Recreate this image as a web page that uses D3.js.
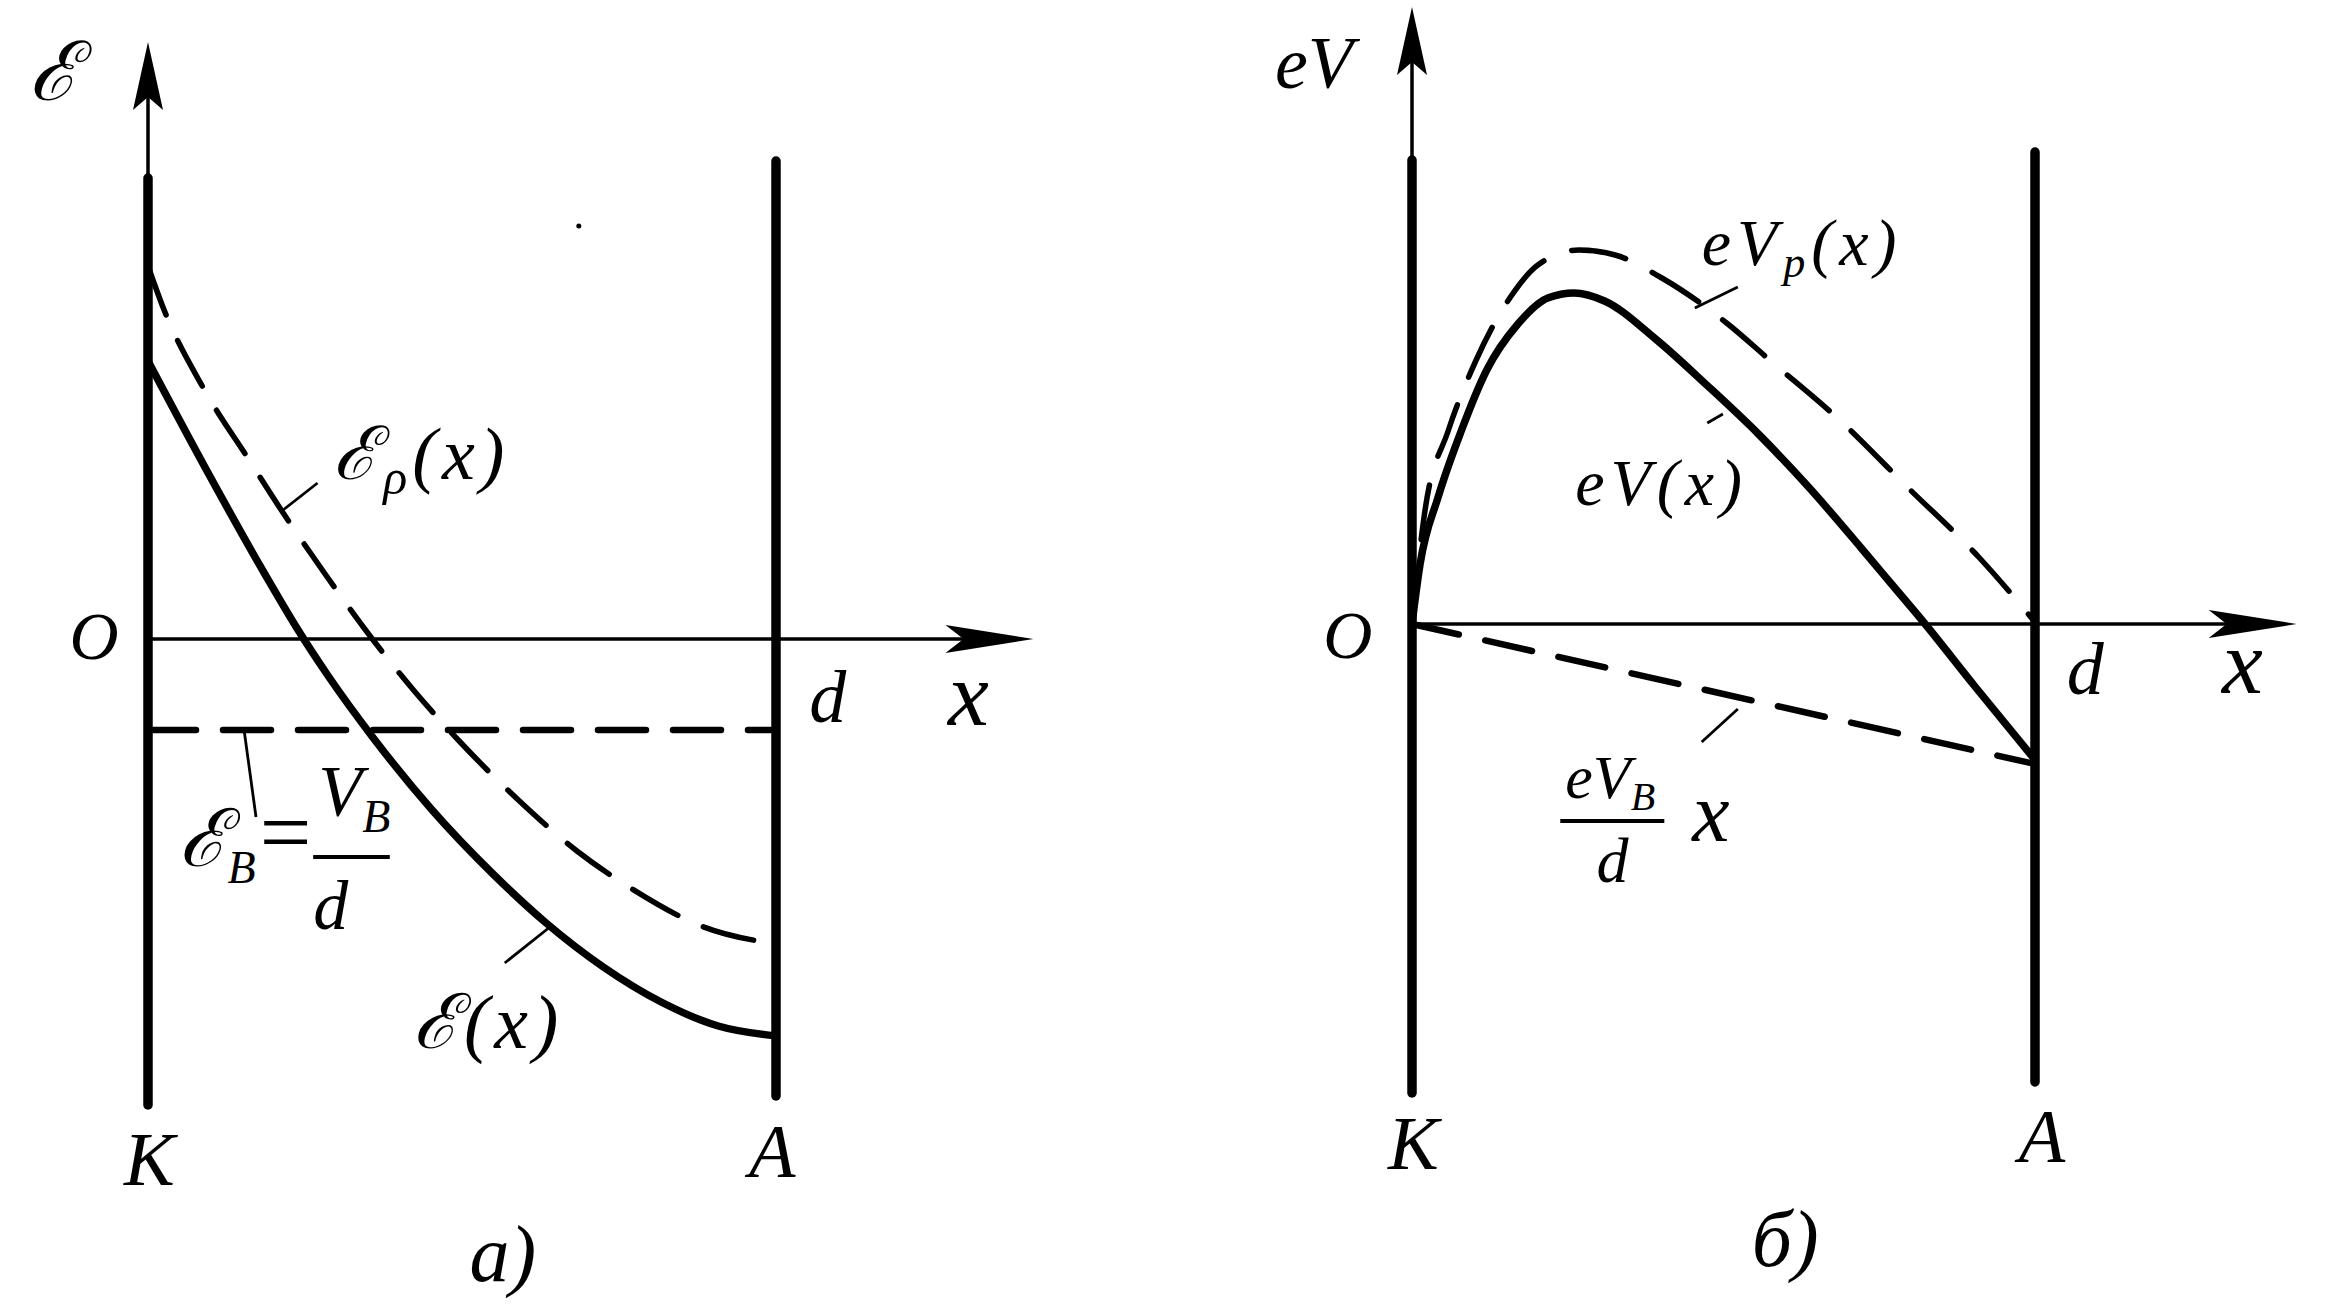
<!DOCTYPE html>
<html>
<head>
<meta charset="utf-8">
<script src="https://cdn.jsdelivr.net/npm/d3@7"></script>
<style>
html,body{margin:0;padding:0;background:#fff;}
svg{display:block;}
text{font-family:"Liberation Serif","DejaVu Serif",serif;font-style:italic;fill:#000;}
</style>
</head>
<body>
<script>
// ---------- DATA (x in units of d, y in arbitrary energy units) ----------
// Panel а): field strength
const epX = [0, 0.025, 0.089, 0.162, 0.209, 0.282, 0.350, 0.424, 0.497, 0.588, 0.683, 0.771, 0.881, 1.0];
const epY = [3.73, 3.30, 2.50, 1.78, 1.32, 0.65, 0.06, -0.52, -1.03, -1.60, -2.12, -2.50, -2.87, -3.05];
const eX  = [0, 0.094, 0.186, 0.236, 0.287, 0.360, 0.451, 0.551, 0.634, 0.725, 0.817, 0.908, 1.0];
const eY  = [2.78, 1.68, 0.65, 0.12, -0.37, -1.00, -1.70, -2.36, -2.84, -3.28, -3.63, -3.87, -3.97];
const ebX = [0, 1];
const ebY = [-0.91, -0.91];
// Panel б): potential energy
const vX  = [0, 0.013, 0.042, 0.079, 0.120, 0.170, 0.218, 0.260, 0.309, 0.391, 0.473, 0.556, 0.638, 0.721, 0.771, 0.821, 0.903, 1.0];
const vY  = [0, 0.60, 1.27, 1.93, 2.54, 3.00, 3.26, 3.31, 3.23, 2.85, 2.39, 1.90, 1.36, 0.76, 0.39, 0.02, -0.62, -1.36];
const vpX = [0, 0.021, 0.058, 0.103, 0.157, 0.202, 0.268, 0.326, 0.401, 0.507, 0.574, 0.688, 0.795, 0.911, 1.0];
const vpY = [0, 1.14, 1.93, 2.64, 3.26, 3.59, 3.74, 3.69, 3.46, 3.00, 2.64, 2.03, 1.37, 0.66, 0.02];
const vbX = [0, 1];
const vbY = [0, -1.40];

// electrode / axis extents (data units)
const electrodesA = {kTop: 4.61, kBot: -4.66, aTop: 4.78, aBot: -4.57, yArrow: 5.97, xArrow: 1.41};
const electrodesB = {kTop: 4.64, kBot: -4.69, aTop: 4.72, aBot: -4.58, yArrow: 6.17, xArrow: 1.42};

const zip = (xs, ys) => xs.map((x, i) => [x, ys[i]]);

// ---------- SVG ----------
const W = 2338, H = 1308;
const svg = d3.select("body").append("svg").attr("width", W).attr("height", H);
svg.append("rect").attr("width", W).attr("height", H).attr("fill", "#fff");

function arrowHead(g, tip, dir, L, w, n) {
  const [dx, dy] = dir, px = -dy, py = dx;
  const p = [
    [tip[0], tip[1]],
    [tip[0] - L*dx + w*px, tip[1] - L*dy + w*py],
    [tip[0] - n*dx, tip[1] - n*dy],
    [tip[0] - L*dx - w*px, tip[1] - L*dy - w*py]
  ];
  g.append("path").attr("d", "M" + p.map(q => q.join(",")).join("L") + "Z").attr("fill", "#000");
}

function label(g, x, y, parts, size, anchor, ls) {
  const t = g.append("text").attr("x", x).attr("y", y).attr("font-size", size)
    .attr("text-anchor", anchor || "start");
  if (ls) t.attr("letter-spacing", ls);
  let shift = 0;
  parts.forEach(p => {
    const ts = t.append("tspan").text(p[0]);
    const target = p[1] ? p[1] : 0;
    if (target !== shift) { ts.attr("dy", target - shift); shift = target; }
    if (p[2]) ts.attr("font-size", p[2]);
  });
  return t;
}

function panel(cfg) {
  const g = svg.append("g");
  const xs = d3.scaleLinear().domain([0, 1]).range(cfg.xr);
  const ys = d3.scaleLinear().domain([0, 1]).range([cfg.y0, cfg.y0 - 100]);
  const E = cfg.el;
  const line = d3.line().x(d => xs(d[0])).y(d => ys(d[1])).curve(d3.curveMonotoneX);
  const straight = d3.line().x(d => xs(d[0])).y(d => ys(d[1]));

  // thin y-axis + arrow
  g.append("line").attr("x1", xs(0)).attr("x2", xs(0)).attr("y1", ys(E.kTop)).attr("y2", ys(E.yArrow) + 30)
    .attr("stroke", "#000").attr("stroke-width", 3.5);
  arrowHead(g, [xs(0), ys(E.yArrow)], [0, -1], 68, 15, 55);
  // x-axis + arrow
  g.append("line").attr("x1", xs(0)).attr("x2", xs(E.xArrow) - 40).attr("y1", ys(0)).attr("y2", ys(0))
    .attr("stroke", "#000").attr("stroke-width", 3.5);
  arrowHead(g, [xs(E.xArrow), ys(0)], [1, 0], 88, 14, 70);
  // electrodes
  g.append("line").attr("x1", xs(0)).attr("x2", xs(0)).attr("y1", ys(E.kTop)).attr("y2", ys(E.kBot))
    .attr("stroke", "#000").attr("stroke-width", 9.5).attr("stroke-linecap", "round");
  g.append("line").attr("x1", xs(1)).attr("x2", xs(1)).attr("y1", ys(E.aTop)).attr("y2", ys(E.aBot))
    .attr("stroke", "#000").attr("stroke-width", 9.5).attr("stroke-linecap", "round");

  cfg.series.forEach(s => {
    g.append("path").attr("d", (s.straight ? straight : line)(s.data))
      .attr("fill", "none").attr("stroke", "#000").attr("stroke-width", s.w)
      .attr("stroke-dasharray", s.dash || null).attr("stroke-linecap", "round")
      .attr("stroke-linejoin", "round");
  });
  cfg.leaders.forEach(l => {
    g.append("line").attr("x1", xs(l[0])).attr("y1", ys(l[1])).attr("x2", xs(l[2])).attr("y2", ys(l[3]))
      .attr("stroke", "#000").attr("stroke-width", 2.8);
  });
  cfg.bars.forEach(b => {
    g.append("line").attr("x1", xs(b[0])).attr("x2", xs(b[1])).attr("y1", ys(b[2])).attr("y2", ys(b[2]))
      .attr("stroke", "#000").attr("stroke-width", 4);
  });
  cfg.labels.forEach(l => label(g, xs(l.x), ys(l.y), l.parts, l.size, l.anchor, l.ls));
  (cfg.dots || []).forEach(d => g.append("circle").attr("cx", xs(d[0])).attr("cy", ys(d[1])).attr("r", 2.5).attr("fill", "#000"));
}

// ---------- Panel а) ----------
panel({
  xr: [148, 776], y0: 639, el: electrodesA,
  series: [
    {data: zip(ebX, ebY), w: 6.5, dash: "48,27", straight: true},
    {data: zip(epX, epY), w: 5.5, dash: "52,28"},
    {data: zip(eX, eY), w: 7.5}
  ],
  leaders: [
    [0.215, 1.29, 0.270, 1.56],
    [0.153, -0.91, 0.172, -1.78],
    [0.568, -3.24, 0.642, -2.87]
  ],
  bars: [[0.263, 0.385, -2.18]],
  labels: [
    {x: -0.190, y: 5.39, parts: [["ℰ"]], size: 82},
    {x: -0.086, y: -0.20, parts: [["O"]], size: 68, anchor: "middle"},
    {x: 1.053, y: -0.83, parts: [["d"]], size: 74},
    {x: 1.274, y: -0.86, parts: [["x"]], size: 92},
    {x: 0.002, y: -5.46, parts: [["K"]], size: 76, anchor: "middle"},
    {x: 0.994, y: -5.38, parts: [["A"]], size: 76, anchor: "middle"},
    {x: 0.565, y: -6.42, parts: [["а)"]], size: 80, anchor: "middle"},
    {x: 0.295, y: 1.60, parts: [["ℰ"], ["ρ", 15, 50], ["(x)", 0]], size: 74, ls: 5},
    {x: 0.050, y: -2.27, parts: [["ℰ"], ["B", 17, 46]], size: 80},
    {x: 0.218, y: -2.24, parts: [["="]], size: 92, anchor: "middle"},
    {x: 0.271, y: -1.76, parts: [["V"], ["B", 17, 46]], size: 72},
    {x: 0.291, y: -2.90, parts: [["d"]], size: 70, anchor: "middle"},
    {x: 0.422, y: -4.09, parts: [["ℰ(x)"]], size: 76, ls: 5}
  ],
  dots: [[0.686, 4.13]]
});

// ---------- Panel б) ----------
panel({
  xr: [1412, 2035], y0: 624, el: electrodesB,
  series: [
    {data: zip(vbX, vbY), w: 6.5, dash: "48,27", straight: true},
    {data: zip(vpX, vpY), w: 5.5, dash: "55,30"},
    {data: zip(vX, vY), w: 7.5}
  ],
  leaders: [
    [0.454, 3.16, 0.523, 3.37],
    [0.474, 2.01, 0.499, 2.10],
    [0.465, -1.18, 0.523, -0.85]
  ],
  bars: [[0.238, 0.405, -1.97]],
  labels: [
    {x: -0.220, y: 5.36, parts: [["eV"]], size: 74},
    {x: -0.103, y: -0.34, parts: [["O"]], size: 68, anchor: "middle"},
    {x: 1.051, y: -0.70, parts: [["d"]], size: 74},
    {x: 1.300, y: -0.69, parts: [["x"]], size: 92},
    {x: 0.002, y: -5.45, parts: [["K"]], size: 76, anchor: "middle"},
    {x: 1.011, y: -5.38, parts: [["A"]], size: 76, anchor: "middle"},
    {x: 0.599, y: -6.42, parts: [["б)"]], size: 80, anchor: "middle"},
    {x: 0.465, y: 3.59, parts: [["eV"], ["p", 12, 44], ["(x)", 0]], size: 66, ls: 6},
    {x: 0.262, y: 1.19, parts: [["eV(x)"]], size: 66, ls: 6},
    {x: 0.246, y: -1.74, parts: [["eV"], ["B", 12, 40]], size: 62},
    {x: 0.322, y: -2.58, parts: [["d"]], size: 64, anchor: "middle"},
    {x: 0.450, y: -2.17, parts: [["x"]], size: 84}
  ]
});
</script>
</body>
</html>
